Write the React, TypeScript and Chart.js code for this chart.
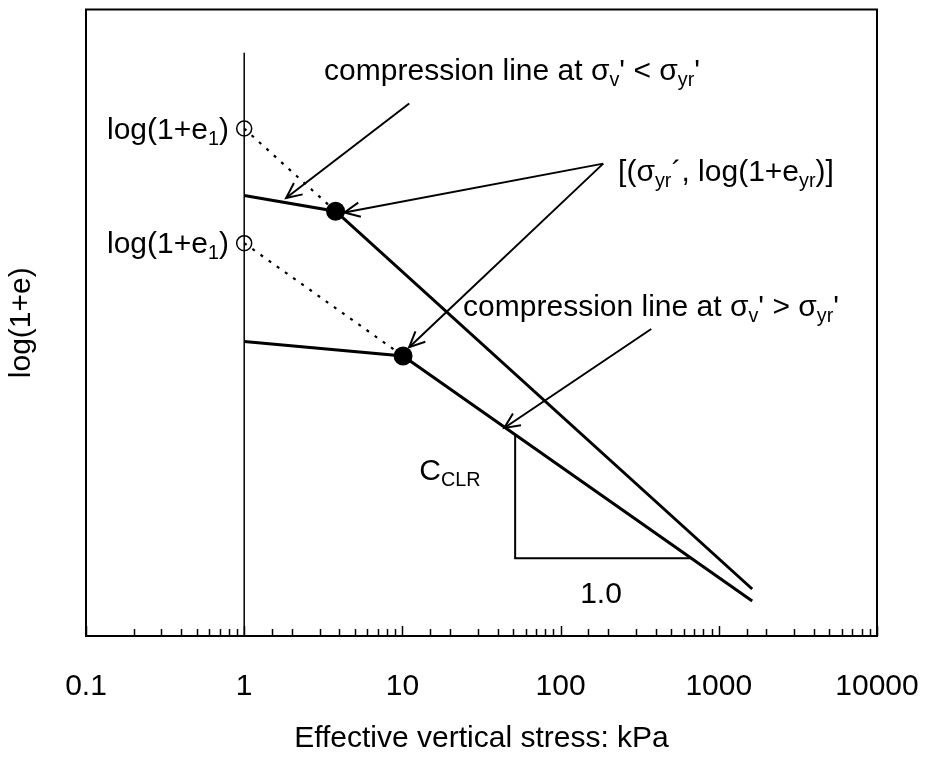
import React, { useEffect, useRef } from 'react';
import { Chart, registerables } from 'chart.js';

Chart.register(...registerables);

const FONT = '"Liberation Sans", Arial, Helvetica, sans-serif';
const FS = 30;

// ---- axis ----
const xMin = 0.1;
const xMax = 10000;
const yMin = 0;
const yMax = 1;
const xTitle = 'Effective vertical stress: kPa';
const yTitle = 'log(1+e)';

// ---- compression curves (log(1+e) in arbitrary units) ----
const upperX = [1, 3.78, 1626];
const upperY = [0.703, 0.678, 0.075];
const lowerX = [1, 10.1, 1626];
const lowerY = [0.47, 0.447, 0.056];

// yield points [(σyr', log(1+eyr)]
const yieldX = [3.78, 10.1];
const yieldY = [0.678, 0.447];

// initial states log(1+e1)
const initX = [1, 1];
const initY = [0.81, 0.627];

// reference vertical line at 1 kPa
const refX = [1, 1];
const refY = [0, 0.931];

// slope triangle (C_CLR over 1.0)
const slopeX = [51.6, 51.6, 671];
const slopeY = [0.321, 0.124, 0.124];

// arrows: tail -> tip
const arrowTailX = [11.04, 186, 186, 374];
const arrowTailY = [0.85, 0.754, 0.754, 0.49];
const arrowTipX = [1.84, 4.3, 11.04, 44];
const arrowTipY = [0.699, 0.676, 0.461, 0.332];

// annotation texts
type Seg = { t: string; sub?: boolean };
const labelTexts: Seg[][] = [
  [{ t: 'compression line at σ' }, { t: 'v', sub: true }, { t: "' < σ" }, { t: 'yr', sub: true }, { t: "'" }],
  [{ t: '[(σ' }, { t: 'yr', sub: true }, { t: '´, log(1+e' }, { t: 'yr', sub: true }, { t: ')]' }],
  [{ t: 'compression line at σ' }, { t: 'v', sub: true }, { t: "' > σ" }, { t: 'yr', sub: true }, { t: "'" }],
  [{ t: 'log(1+e' }, { t: '1', sub: true }, { t: ')' }],
  [{ t: 'log(1+e' }, { t: '1', sub: true }, { t: ')' }],
  [{ t: 'C' }, { t: 'CLR', sub: true }],
  [{ t: '1.0' }],
];
const labelX = [3.2, 231, 24.2, 0.8, 0.8, 12.8, 180];
const labelY = [0.887, 0.726, 0.51, 0.794, 0.612, 0.249, 0.053];
const labelAlign = ['left', 'left', 'left', 'right', 'right', 'left', 'center'];

const pts = (xs: number[], ys: number[]) => xs.map((x, i) => ({ x, y: ys[i] }));

const isMajor = (v: number) => {
  const l = Math.log10(v);
  return Math.abs(l - Math.round(l)) < 1e-6;
};

function drawRich(ctx: CanvasRenderingContext2D, segs: Seg[], x: number, y: number, align: string) {
  const sub = FS * 0.66;
  let w = 0;
  segs.forEach((s) => {
    ctx.font = `${s.sub ? sub : FS}px ${FONT}`;
    w += ctx.measureText(s.t).width;
  });
  let cx = align === 'right' ? x - w : align === 'center' ? x - w / 2 : x;
  ctx.textAlign = 'left';
  ctx.textBaseline = 'alphabetic';
  segs.forEach((s) => {
    ctx.font = `${s.sub ? sub : FS}px ${FONT}`;
    ctx.fillText(s.t, cx, s.sub ? y + FS * 0.2 : y);
    cx += ctx.measureText(s.t).width;
  });
}

const overlay = {
  id: 'overlay',
  afterDatasetsDraw(chart: any) {
    const { ctx, chartArea: a, scales } = chart;
    const xs = scales.x;
    const ys = scales.y;
    ctx.save();
    ctx.strokeStyle = '#000';
    ctx.fillStyle = '#000';
    // frame
    ctx.lineWidth = 2;
    ctx.strokeRect(a.left, a.top, a.right - a.left, a.bottom - a.top);
    // inward tick marks
    ctx.lineWidth = 1.5;
    xs.ticks.forEach((t: any) => {
      const px = Math.round(xs.getPixelForValue(t.value)) + 0.5;
      const len = isMajor(t.value) ? 10 : 7;
      ctx.beginPath();
      ctx.moveTo(px, a.bottom);
      ctx.lineTo(px, a.bottom - len);
      ctx.stroke();
    });
    // arrow heads
    ctx.lineWidth = 2;
    arrowTipX.forEach((tx, i) => {
      const x1 = xs.getPixelForValue(arrowTailX[i]);
      const y1 = ys.getPixelForValue(arrowTailY[i]);
      const x2 = xs.getPixelForValue(tx);
      const y2 = ys.getPixelForValue(arrowTipY[i]);
      const ang = Math.atan2(y2 - y1, x2 - x1);
      const L = 17;
      const h = (25 * Math.PI) / 180;
      ctx.beginPath();
      ctx.moveTo(x2 - L * Math.cos(ang - h), y2 - L * Math.sin(ang - h));
      ctx.lineTo(x2, y2);
      ctx.lineTo(x2 - L * Math.cos(ang + h), y2 - L * Math.sin(ang + h));
      ctx.stroke();
    });
    // texts
    labelTexts.forEach((segs, i) => {
      drawRich(ctx, segs, xs.getPixelForValue(labelX[i]), ys.getPixelForValue(labelY[i]), labelAlign[i]);
    });
    ctx.restore();
  },
};

export default function App() {
  const ref = useRef<HTMLCanvasElement>(null);
  useEffect(() => {
    if (!ref.current) return;
    const lineDs = (data: any[], width: number, extra: any = {}) => ({
      data,
      showLine: true,
      borderColor: '#000',
      borderWidth: width,
      pointRadius: 0,
      fill: false,
      tension: 0,
      ...extra,
    });
    const arrowSets = arrowTipX.map((tx, i) =>
      lineDs(pts([arrowTailX[i], tx], [arrowTailY[i], arrowTipY[i]]), 2)
    );
    const chart = new Chart(ref.current, {
      type: 'scatter',
      data: {
        datasets: [
          lineDs(pts(refX, refY), 1.5),
          lineDs(pts([initX[0], yieldX[0]], [initY[0], yieldY[0]]), 2.2, { borderDash: [3, 7] }),
          lineDs(pts([initX[1], yieldX[1]], [initY[1], yieldY[1]]), 2.2, { borderDash: [3, 7] }),
          lineDs(pts(upperX, upperY), 3),
          lineDs(pts(lowerX, lowerY), 3),
          lineDs(pts(slopeX, slopeY), 2),
          ...arrowSets,
          {
            data: pts(initX, initY),
            showLine: false,
            pointRadius: 7.5,
            pointBorderWidth: 1.5,
            pointBorderColor: '#000',
            pointBackgroundColor: 'rgba(0,0,0,0)',
          },
          {
            data: pts(yieldX, yieldY),
            showLine: false,
            pointRadius: 9.5,
            pointBorderWidth: 0,
            pointBackgroundColor: '#000',
            pointBorderColor: '#000',
          },
        ],
      },
      options: {
        animation: false,
        responsive: false,
        events: [],
        layout: { padding: { top: 9, right: 50, left: 0, bottom: 0 } },
        plugins: { legend: { display: false }, tooltip: { enabled: false } },
        scales: {
          x: {
            type: 'logarithmic',
            min: xMin,
            max: xMax,
            grid: { display: false, drawTicks: false },
            border: { display: false },
            ticks: {
              autoSkip: false,
              maxRotation: 0,
              minRotation: 0,
              padding: 33,
              color: '#000',
              font: { family: FONT, size: FS },
              callback: (v: any) => (isMajor(Number(v)) ? String(Number(v)) : ''),
            },
            title: {
              display: true,
              text: xTitle,
              color: '#000',
              font: { family: FONT, size: FS },
              padding: { top: 0, bottom: 7 },
            },
            afterFit: (s: any) => {
              s.height = 128;
              s.paddingLeft = 0;
              s.paddingRight = 0;
            },
          },
          y: {
            min: yMin,
            max: yMax,
            grid: { display: false, drawTicks: false },
            border: { display: false },
            ticks: { display: false },
            title: {
              display: true,
              text: yTitle,
              color: '#000',
              font: { family: FONT, size: FS },
              padding: { top: 4, bottom: 0 },
            },
            afterFit: (s: any) => {
              s.width = 86;
            },
          },
        },
      },
      plugins: [overlay],
    });
    return () => chart.destroy();
  }, []);
  return (
    <div style={{ position: 'absolute', left: 0, top: 0, width: 927, height: 764, background: '#fff' }}>
      <canvas ref={ref} width={927} height={764} style={{ display: 'block' }} />
    </div>
  );
}
